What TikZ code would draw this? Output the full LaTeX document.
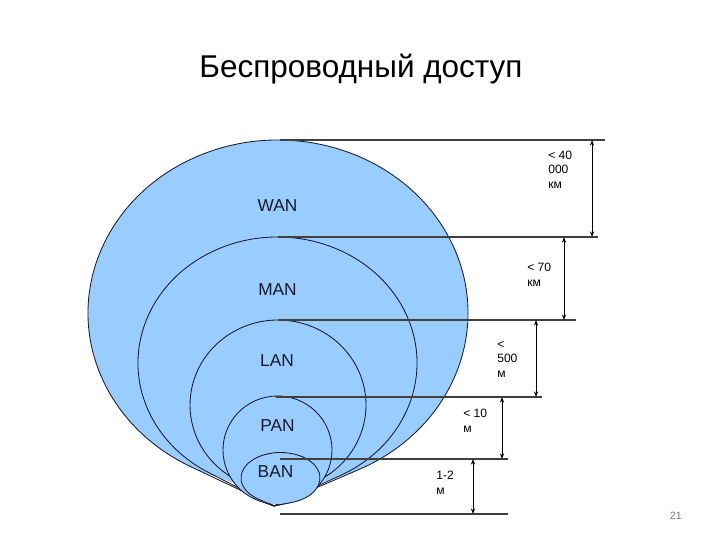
\documentclass[tikz,border=0pt]{standalone}
\usepackage{fontspec}
\setmainfont{Liberation Sans}
\usetikzlibrary{arrows.meta, calc, positioning}

\definecolor{netblue}{RGB}{153,204,255}
\definecolor{netink}{RGB}{25,25,45}

\begin{document}
\begin{tikzpicture}[x=0.025cm, y=-0.025cm]
\tikzset{net fill/.style={fill=netblue},
  net edge/.style={draw=netink, line width=0.6pt, line join=round},
  net name/.style={font=\fontsize{12.3}{14}\selectfont, text=netink, anchor=base, inner sep=0pt},
  level line/.style={draw=black!75, line width=0.8pt},
  range arrow/.style={draw=black, line width=0.6pt, {Stealth[length=4pt,width=3pt]}-{Stealth[length=4pt,width=3pt]}},
  range text/.style={font=\fontsize{8.6}{10.3}\selectfont, align=left, anchor=base west, inner sep=0pt}}
  \useasboundingbox (0,0) rectangle (720,540);

  \node [font=\fontsize{22.4}{26}\selectfont, anchor=base] (title) at (361,77) {Беспроводный доступ};

  % nested areas, each an ellipse with a tail down to the tip
  \coordinate (tip) at (274,506);
  \foreach \n/\cx/\cy/\rx/\ry/\ta/\tb/\tx/\ty in {WAN/278/313/190/173/64.75/-242.58/277.5/211,
      MAN/277.5/363/139.5/126/63.01/-240.48/277.5/295,
      LAN/278/405/88/85/59.43/-235.05/277/366.7,
      PAN/277.5/450/54.5/54/77.79/-250.72/277.5/431,
      BAN/280.5/478/39.5/25.5/72.77/-235.72/275.5/477.3} {
    \fill [net fill] (\cx,\cy) ellipse [x radius=\rx, y radius=\ry];
    \draw [net edge] (tip) -- ($(\cx,\cy)+({\rx*cos(\ta)},{\ry*sin(\ta)})$)
      arc [start angle=\ta, end angle=\tb, x radius=\rx, y radius=\ry] -- cycle;
    \node [net name] (\n) at (\tx,\ty) {\n};
  }

  % range lines and arrows
  \foreach \i/\ys/\xs/\xe in {0/140/280/605, 1/237/278/598, 2/320/278/576,
      3/397/276/542, 4/459/280/508, 5/514/280/508} {
    \coordinate (L\i) at (\xs,\ys);
    \coordinate (E\i) at (\xe,\ys);
    \draw [level line] (L\i) -- (E\i);
  }
  \foreach \i/\j/\x in {0/1/592, 1/2/564, 2/3/536, 3/4/502, 4/5/473} {
    \draw [range arrow] (L\i -| \x,0) -- (L\j -| \x,0);
  }

  % the node base is the baseline of the last line
  \foreach \i/\x/\y/\txt in {0/548/188/{< 40\\000\\км}, 1/527/286/{< 70\\км},
      2/497/377/{<\\500\\м}, 3/463/432/{< 10\\м}, 4/436/494/{1-2\\м}} {
    \node [range text] (D\i) at (\x,\y) {\txt};
  }

  \node [font=\fontsize{7.5}{9}\selectfont, text=black!55, anchor=base west] (page) at (665,519) {21};
\end{tikzpicture}
\end{document}
